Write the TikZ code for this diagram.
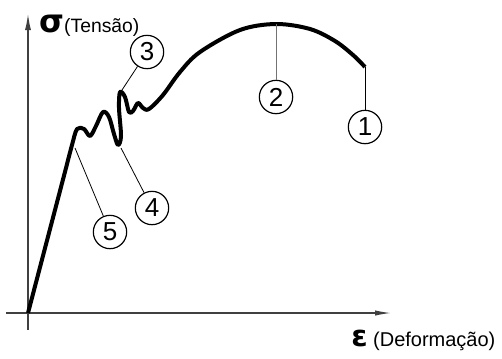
\documentclass[tikz,border=0pt]{standalone}
\usepackage{fontspec}
\setmainfont{Liberation Sans}
\newfontfamily\greekfont{DejaVu Sans}
\usetikzlibrary{arrows.meta}

\begin{document}
\begin{tikzpicture}[
  x=0.75pt, y=-0.75pt,
  axis/.style={draw=black!75, line width=0.9pt},
  curve/.style={line width=3pt, line join=round},
  leader/.style={line width=0.6pt},
  marker/.style={
    circle,
    draw,
    line width=0.9pt,
    minimum size=25pt,
    inner sep=0pt,
    font=\fontsize{19.5}{19.5}\selectfont,
  },
  axislabel/.style={anchor=base west, inner sep=0pt, font=\fontsize{14.5}{14.5}\selectfont}
]
\useasboundingbox (0,0) rectangle (502,358);

% axes
\coordinate (ybot) at (28,330);
\coordinate (ytop) at (28,14);
\coordinate (xleft) at (6,313);
\coordinate (xright) at (391,313);
\draw[axis, -{Latex[length=12pt, width=4.5pt]}] (ybot) -- (ytop);
\draw[axis, -{Latex[length=12pt, width=4pt]}] (xleft) -- (xright);

\node[axislabel] (ylab) at (39,32) {{\greekfont\bfseries\fontsize{24}{24}\selectfont σ}(Tensão)};
\node[axislabel, font=\fontsize{15}{15}\selectfont] (xlab) at (351,346) {{\greekfont\bfseries\fontsize{22}{22}\selectfont ε} (Deformação)};

% stress-strain curve
\draw[curve] (28,313) -- plot[smooth, tension=0.55] coordinates {
  (66,168) (72,145) (77,129) (84,129) (90,136) (96,126) (103,112) (109,117)
  (114,134) (118,145) (121,136) (119,108) (120,92) (125,97) (129,112)
  (133,111) (138,103) (143,108) (149,109) (163,95) (180,72) (200,52)
  (240,30) (276,24) (310,29) (335,41) (353,55) (365,67)};

% points on the curve
\coordinate (p1) at (365,67);
\coordinate (p2) at (276,24);
\coordinate (p3) at (122,90);
\coordinate (p4) at (121,148);
\coordinate (p5) at (75,148);

\node[marker] (n1) at (365,127) {1};
\node[marker] (n2) at (276,97) {2};
\node[marker] (n3) at (147,52) {3};
\node[marker] (n4) at (152,208) {4};
\node[marker] (n5) at (110,232) {5};

\draw[leader] (p1) -- (n1);
\draw[leader, draw=black!55] (p2) -- (n2);
\draw[leader] (p3) -- (n3);
\draw[leader] (p4) -- (n4);
\draw[leader] (p5) -- (n5);

\end{tikzpicture}
\end{document}
